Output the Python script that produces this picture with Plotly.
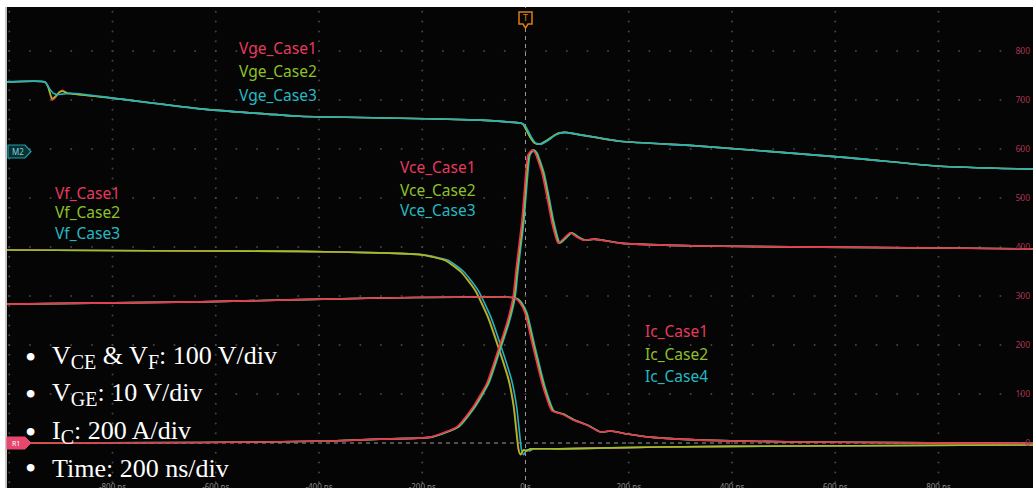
import numpy as np
import plotly.graph_objects as go

# ---------------- data (time in ns) ----------------
# Vge (V, 10 V/div, referenced to M2 marker)
t_vge_c12 = [-1006, -931, -925, -917, -910, -903, -897, -888, -872, -800, -630, -437, -243, -88, -30, -11, -5, -1,
             9, 18, 28, 42, 57, 67, 77, 106, 183, 338, 629, 803, 983]
vge_case1 = [14.3, 14.3, 13.5, 10.6, 11.2, 12.2, 12.6, 12.1, 11.8, 11.0, 8.8, 7.3, 6.9, 6.5, 6.1, 5.9, 5.7, 5.1,
             3.1, 1.8, 1.6, 2.4, 3.5, 3.9, 4.0, 3.5, 2.2, 1.2, -1.2, -2.9, -3.5]
vge_case2 = [14.3, 14.3, 13.3, 10.9, 11.4, 12.2, 12.4, 12.0, 11.8, 11.0, 8.8, 7.3, 6.9, 6.5, 6.1, 5.9, 5.7, 5.0,
             3.0, 1.8, 1.6, 2.4, 3.5, 3.9, 4.0, 3.5, 2.2, 1.2, -1.2, -2.9, -3.5]
t_vge_c3 = [-1006, -931, -923, -915, -907, -898, -890, -880, -865, -800, -630, -437, -243, -88, -30, -10, -4, 1,
            11, 20, 30, 44, 59, 69, 79, 108, 183, 338, 629, 803, 983]
vge_case3 = [14.3, 14.3, 13.1, 12.0, 11.7, 11.8, 11.9, 12.0, 11.9, 11.0, 8.8, 7.3, 6.9, 6.5, 6.1, 5.9, 5.7, 5.1,
             3.1, 1.8, 1.6, 2.4, 3.5, 3.9, 4.0, 3.5, 2.2, 1.2, -1.2, -2.9, -3.5]

# Vf (V, 100 V/div, referenced to R1)
vf_vals = [394, 392, 391, 388, 384, 373, 349, 312, 257, 196, 129, 73, 20, -14, -24, -14, -16, -12, -12, -8, -6, -4]
t_vf_c1 = [-1006, -631, -438, -282, -200, -155, -124, -97, -72, -52, -32, -22, -16.5, -12.7, -8.8, -3, 2.8, 10.6, 65, 260, 531, 983]
t_vf_c2 = [-1006, -631, -438, -282, -201, -156, -125, -98, -73, -53, -33, -23, -17.5, -13.7, -9.8, -4, 1.8, 9.6, 64, 260, 531, 983]
t_vf_c3 = [-1006, -631, -438, -282, -197, -150, -119, -92, -67, -47, -27, -17, -11.5, -7.7, -3.8, 2, 7.8, 15.6, 69, 260, 531, 983]

# Vce (V, 100 V/div, referenced to R1)
vce_vals = [0, 1, 4, 8, 12, 33, 73, 122, 190, 245, 298, 353, 404, 455, 531, 588, 598, 592, 551, 502, 449, 408,
            420, 429, 420, 414, 416, 408, 402, 398, 396]
t_vce_c1 = [-1006, -631, -379, -282, -185, -133, -102, -75, -53, -36, -24, -18.4, -12.6, -6.8, -1, 4.8, 12.6, 18.4,
            32, 41.6, 51.3, 63, 76.5, 86.2, 99.8, 111.4, 130.8, 183, 338, 803, 983]
t_vce_c2 = [-1006, -631, -379, -282, -183, -131, -100, -73, -51, -34, -22, -16.4, -10.6, -4.8, 1, 6.8, 14.6, 20.4,
            34, 43.6, 53.3, 65, 78.5, 88.2, 101.8, 113.4, 132.8, 184, 338, 803, 983]
t_vce_c3 = [-1006, -631, -379, -282, -181, -129, -98, -71, -49, -32, -20, -14.4, -8.6, -2.8, 3, 8.8, 16.6, 22.4,
            36, 45.6, 55.3, 67, 80.5, 90.2, 103.8, 115.4, 134.8, 185, 338, 803, 983]

# Ic (A, 200 A/div, referenced to R1)
ic_vals = [567, 576, 592, 594, 588, 571, 531, 392, 229, 131, 118, 94, 73, 45, 49, 37, 24, 12, 4, -2]
t_ic_c1 = [-1006, -631, -282, -26, -18.4, -10.7, -1, 14.5, 33.9, 51.3, 70.7, 92, 119, 144, 164, 196, 241, 338, 531, 983]
t_ic_c2 = [-1006, -631, -282, -24.5, -16.4, -8.7, 1, 16.5, 35.9, 53.3, 72.7, 94, 120, 145, 165, 197, 242, 338, 531, 983]
t_ic_c3 = [-1006, -631, -282, -23, -14.4, -6.7, 3, 18.5, 37.9, 55.3, 74.7, 95, 121, 146, 166, 198, 243, 338, 531, 983]

# scope settings
time_ticks = [-800, -600, -400, -200, 0, 200, 400, 600, 800]
time_tick_labels = ["-800 ns", "-600 ns", "-400 ns", "-200 ns", "0 s", "200 ns", "400 ns", "600 ns", "800 ns"]
level_ticks = [0, 100, 200, 300, 400, 500, 600, 700, 800]
V_PER_DIV = 100
VGE_PER_DIV = 10
IC_PER_DIV = 200
NS_PER_DIV = 200
DIV_BOTTOM, DIV_TOP = -0.918, 8.898      # screen extent in divisions from R1
M2_OFFSET_DIV = 5.939                    # Vge reference position
T_RANGE = [-1006.3, 983.1]

RED, GREEN, TEAL = "#ee3259", "#9bc41e", "#1fb6be"
RED_T, GREEN_T, TEAL_T = "#e63a5e", "#8fc02a", "#24b9c3"

# ---------------- figure ----------------
W, H = 1033, 488
ML, MR, MT, MB = 6, 0, 7, 0
PW, PH = W - ML - MR, H - MT - MB


def pxx(x):
    return (x - ML) / PW


def pxy(y):
    return (H - MB - y) / PH


fig = go.Figure()

# graticule dots
gx, gy = [], []
for lvl in range(100, 900, 100):
    for t in np.arange(-1000, 990, NS_PER_DIV / 5):
        gx.append(t)
        gy.append(lvl)
for t in range(-1000, 1000, NS_PER_DIV):
    if t == 0:
        continue
    for lvl in np.arange(-80, 890, V_PER_DIV / 5):
        gx.append(t)
        gy.append(lvl)
fig.add_trace(go.Scatter(x=gx, y=gy, mode="markers", marker=dict(size=2, color="#444444"),
                         hoverinfo="skip", yaxis="y"))

line_kw = dict(shape="spline", smoothing=0.5, width=1.6)

# Vge
for t, v, c in [(t_vge_c12, vge_case1, RED), (t_vge_c12, vge_case2, GREEN), (t_vge_c3, vge_case3, TEAL)]:
    fig.add_trace(go.Scatter(x=t, y=v, mode="lines", line=dict(color=c, **line_kw), yaxis="y2"))
# Vf
for t, c in [(t_vf_c3, TEAL), (t_vf_c1, RED), (t_vf_c2, GREEN)]:
    fig.add_trace(go.Scatter(x=t, y=vf_vals, mode="lines", line=dict(color=c, **line_kw), yaxis="y"))
# Ic
for t, c in [(t_ic_c3, TEAL), (t_ic_c2, GREEN), (t_ic_c1, RED)]:
    fig.add_trace(go.Scatter(x=t, y=ic_vals, mode="lines", line=dict(color=c, **line_kw), yaxis="y3"))
# Vce
for t, c in [(t_vce_c3, TEAL), (t_vce_c2, GREEN), (t_vce_c1, RED)]:
    fig.add_trace(go.Scatter(x=t, y=vce_vals, mode="lines", line=dict(color=c, **line_kw), yaxis="y"))

shapes = [
    dict(type="line", xref="x", yref="paper", x0=0, x1=0, y0=0, y1=1,
         line=dict(color="#9a9a9a", width=1, dash="4px,4px"), layer="below"),
    dict(type="line", xref="paper", yref="y", x0=0, x1=1, y0=0, y1=0,
         line=dict(color="#9a9a9a", width=1, dash="4px,4px"), layer="below"),
    dict(type="line", xref="paper", yref="paper", x0=0, x1=0, y0=0, y1=1,
         line=dict(color="#c8c8c8", width=2)),
]


def path(points):
    return "M " + " L ".join(f"{pxx(x):.5f},{pxy(y):.5f}" for x, y in points) + " Z"


shapes.append(dict(type="path", xref="paper", yref="paper",
                   path=path([(519, 12), (532, 12), (532, 24), (528, 24), (525.5, 28), (523, 24), (519, 24)]),
                   fillcolor="#050505", line=dict(color="#e07d10", width=1.5)))
shapes.append(dict(type="path", xref="paper", yref="paper",
                   path=path([(8, 145), (25, 145), (31, 151.5), (25, 158), (8, 158)]),
                   fillcolor="#0b3034", line=dict(color="#1d9ea6", width=1.2)))
shapes.append(dict(type="path", xref="paper", yref="paper",
                   path=path([(7, 437), (25, 437), (31, 443), (25, 449), (7, 449)]),
                   fillcolor="#e8476d", line=dict(color="#e8476d", width=1)))

ann = []


def label(text, x, y, color, size=15.5, family="Noto Sans", anchor="left"):
    ann.append(dict(text=text, x=pxx(x), y=pxy(y), xref="paper", yref="paper", xanchor=anchor,
                    yanchor="middle", showarrow=False, font=dict(color=color, size=size, family=family)))


label("T", 525.5, 18, "#e07d10", size=9, family="Noto Sans", anchor="center")
label("M2", 17.5, 151.5, "#7fd4d8", size=8, anchor="center")
label("R1", 16, 443, "#ffffff", size=7, anchor="center")

for name, x0, ys in [("Vge", 237, (48, 71, 95)), ("Vf", 53, (193, 212, 233)), ("Vce", 398, (167, 190, 210))]:
    for i, (y, col) in enumerate(zip(ys, (RED_T, GREEN_T, TEAL_T))):
        label(f"{name}_Case{i + 1}", x0, y, col)
for txt, y, col in [("Ic_Case1", 331, RED_T), ("Ic_Case2", 354, GREEN_T), ("Ic_Case4", 376, TEAL_T)]:
    label(txt, 643, y, col)


def sub(s):
    return f"<sub><span style='font-size:20px'>{s}</span></sub>"


info_lines = [f"V{sub('CE')} &amp; V{sub('F')}: 100 V/div", f"V{sub('GE')}: 10 V/div",
              f"I{sub('C')}: 200 A/div", "Time: 200 ns/div"]
for txt, y in zip(info_lines, (357, 394, 432, 468)):
    label("•", 30, y, "#ffffff", size=32, family="Liberation Serif", anchor="center")
    label(txt, 50, y, "#ffffff", size=26, family="Liberation Serif")

fig.update_layout(
    width=W, height=H, margin=dict(l=ML, r=MR, t=MT, b=MB, autoexpand=False),
    paper_bgcolor="#ffffff", plot_bgcolor="#050505", showlegend=False,
    xaxis=dict(range=T_RANGE, tickvals=time_ticks, ticktext=time_tick_labels, ticklabelposition="inside",
               ticklabelstandoff=-7, automargin=False,
               showgrid=False, zeroline=False, showline=False, ticks="",
               tickfont=dict(color="#8a8a8a", size=8, family="Noto Sans")),
    yaxis=dict(range=[DIV_BOTTOM * V_PER_DIV, DIV_TOP * V_PER_DIV], side="right", tickvals=level_ticks,
               ticklabelposition="inside", showgrid=False, zeroline=False, showline=False, ticks="",
               automargin=False,
               tickfont=dict(color="#a8324e", size=8.5, family="Noto Sans")),
    yaxis2=dict(range=[(DIV_BOTTOM - M2_OFFSET_DIV) * VGE_PER_DIV, (DIV_TOP - M2_OFFSET_DIV) * VGE_PER_DIV],
                overlaying="y", visible=False, automargin=False),
    yaxis3=dict(range=[DIV_BOTTOM * IC_PER_DIV, DIV_TOP * IC_PER_DIV], overlaying="y", visible=False,
                automargin=False),
    shapes=shapes, annotations=ann,
)

fig.write_html("out.html", config={"displayModeBar": False},
               post_script="document.body.style.margin='0';document.body.style.overflow='hidden';")
